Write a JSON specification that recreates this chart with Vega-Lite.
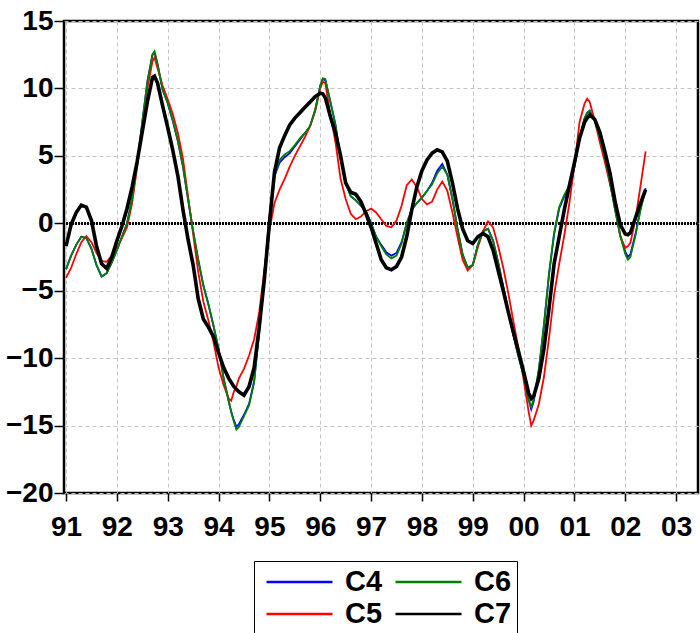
{
  "$schema": "https://vega.github.io/schema/vega-lite/v6.json",
  "width": 634,
  "height": 472,
  "autosize": "none",
  "padding": {"left": 64, "top": 21, "right": 2, "bottom": 140},
  "background": "white",
  "config": {
    "view": {"stroke": "black", "strokeWidth": 2.5},
    "font": "Liberation Sans",
    "axis": {
      "labelFont": "Liberation Sans",
      "labelFontWeight": "bold",
      "labelFontSize": 28,
      "labelColor": "black",
      "tickColor": "black",
      "tickWidth": 1.5,
      "domain": false,
      "gridColor": "#c4c4c4",
      "gridDash": [4, 3],
      "gridWidth": 1,
      "title": null
    }
  },
  "data": {
    "values": [
      {"t": 1991.0, "C4": -3.4, "C5": -4.05, "C6": -3.4, "C7": -1.7},
      {"t": 1991.1, "C4": -2.4, "C5": -3.3, "C6": -2.4, "C7": -0.1},
      {"t": 1991.2, "C4": -1.6, "C5": -2.3, "C6": -1.6, "C7": 0.8},
      {"t": 1991.3, "C4": -1.0, "C5": -1.4, "C6": -1.0, "C7": 1.35},
      {"t": 1991.4, "C4": -1.1, "C5": -0.96, "C6": -1.1, "C7": 1.2},
      {"t": 1991.5, "C4": -1.9, "C5": -1.4, "C6": -1.9, "C7": 0.2},
      {"t": 1991.6, "C4": -3.1, "C5": -2.2, "C6": -3.1, "C7": -1.7},
      {"t": 1991.7, "C4": -3.95, "C5": -2.8, "C6": -3.95, "C7": -3.0},
      {"t": 1991.8, "C4": -3.7, "C5": -2.85, "C6": -3.7, "C7": -3.35},
      {"t": 1991.9, "C4": -2.9, "C5": -2.4, "C6": -2.9, "C7": -2.5},
      {"t": 1992.0, "C4": -2.0, "C5": -1.8, "C6": -2.0, "C7": -1.3},
      {"t": 1992.1, "C4": -1.0, "C5": -1.1, "C6": -1.0, "C7": -0.2},
      {"t": 1992.2, "C4": 0.0, "C5": -0.3, "C6": 0.0, "C7": 1.1},
      {"t": 1992.3, "C4": 1.8, "C5": 1.5, "C6": 1.8, "C7": 2.7},
      {"t": 1992.4, "C4": 4.5, "C5": 4.2, "C6": 4.5, "C7": 4.6},
      {"t": 1992.5, "C4": 7.5, "C5": 7.2, "C6": 7.5, "C7": 6.8},
      {"t": 1992.6, "C4": 10.5, "C5": 10.0, "C6": 10.5, "C7": 9.0},
      {"t": 1992.7, "C4": 12.5, "C5": 12.0, "C6": 12.5, "C7": 10.8},
      {"t": 1992.74, "C4": 12.7, "C5": 12.3, "C6": 12.75, "C7": 10.9},
      {"t": 1992.8, "C4": 11.8, "C5": 11.5, "C6": 11.8, "C7": 10.4},
      {"t": 1992.9, "C4": 9.9, "C5": 10.2, "C6": 9.9, "C7": 8.7},
      {"t": 1993.0, "C4": 8.9, "C5": 9.2, "C6": 8.9, "C7": 7.1},
      {"t": 1993.1, "C4": 7.6, "C5": 8.1, "C6": 7.6, "C7": 5.4},
      {"t": 1993.2, "C4": 6.1, "C5": 6.7, "C6": 6.1, "C7": 3.5},
      {"t": 1993.3, "C4": 4.2, "C5": 4.8, "C6": 4.2, "C7": 1.0},
      {"t": 1993.4, "C4": 1.8, "C5": 2.0, "C6": 1.8, "C7": -1.2},
      {"t": 1993.5, "C4": -0.6, "C5": -0.8, "C6": -0.6, "C7": -3.1},
      {"t": 1993.6, "C4": -2.7, "C5": -3.6, "C6": -2.7, "C7": -5.6},
      {"t": 1993.7, "C4": -4.6, "C5": -5.8, "C6": -4.6, "C7": -7.1},
      {"t": 1993.8, "C4": -6.0, "C5": -7.2, "C6": -6.0, "C7": -7.7},
      {"t": 1993.9, "C4": -7.6, "C5": -8.8, "C6": -7.6, "C7": -8.4},
      {"t": 1994.0, "C4": -9.3, "C5": -10.7, "C6": -9.3, "C7": -9.6},
      {"t": 1994.1, "C4": -11.5, "C5": -12.0, "C6": -11.5, "C7": -10.7},
      {"t": 1994.2, "C4": -13.2, "C5": -13.0, "C6": -13.2, "C7": -11.5},
      {"t": 1994.25, "C4": -14.0, "C5": -13.15, "C6": -14.0, "C7": -11.8},
      {"t": 1994.3, "C4": -14.6, "C5": -12.5, "C6": -14.7, "C7": -12.1},
      {"t": 1994.35, "C4": -15.1, "C5": -12.1, "C6": -15.3, "C7": -12.3},
      {"t": 1994.4, "C4": -14.9, "C5": -11.5, "C6": -15.1, "C7": -12.5},
      {"t": 1994.5, "C4": -14.2, "C5": -10.8, "C6": -14.3, "C7": -12.75},
      {"t": 1994.6, "C4": -13.4, "C5": -9.8, "C6": -13.5, "C7": -12.1},
      {"t": 1994.7, "C4": -11.7, "C5": -8.6, "C6": -11.8, "C7": -10.7},
      {"t": 1994.8, "C4": -8.0, "C5": -6.6, "C6": -8.0, "C7": -7.7},
      {"t": 1994.9, "C4": -3.8, "C5": -3.5, "C6": -3.8, "C7": -4.2},
      {"t": 1995.0, "C4": 0.4, "C5": -0.5, "C6": 0.4, "C7": 0.0},
      {"t": 1995.1, "C4": 3.5, "C5": 1.5, "C6": 3.6, "C7": 3.8},
      {"t": 1995.2, "C4": 4.5, "C5": 2.5, "C6": 4.7, "C7": 5.6},
      {"t": 1995.3, "C4": 4.9, "C5": 3.3, "C6": 5.1, "C7": 6.5},
      {"t": 1995.4, "C4": 5.2, "C5": 4.2, "C6": 5.35, "C7": 7.3},
      {"t": 1995.5, "C4": 5.7, "C5": 5.0, "C6": 5.8, "C7": 7.8},
      {"t": 1995.6, "C4": 6.2, "C5": 5.7, "C6": 6.3, "C7": 8.2},
      {"t": 1995.7, "C4": 6.7, "C5": 6.4, "C6": 6.7, "C7": 8.6},
      {"t": 1995.8, "C4": 7.2, "C5": 7.2, "C6": 7.2, "C7": 9.0},
      {"t": 1995.9, "C4": 8.4, "C5": 8.3, "C6": 8.4, "C7": 9.4},
      {"t": 1996.0, "C4": 10.2, "C5": 10.0, "C6": 10.2, "C7": 9.65},
      {"t": 1996.05, "C4": 10.7, "C5": 10.5, "C6": 10.75, "C7": 9.6},
      {"t": 1996.1, "C4": 10.6, "C5": 10.4, "C6": 10.7, "C7": 9.3},
      {"t": 1996.2, "C4": 9.0, "C5": 8.0, "C6": 9.0, "C7": 7.9},
      {"t": 1996.3, "C4": 7.3, "C5": 6.0, "C6": 7.3, "C7": 6.7},
      {"t": 1996.4, "C4": 4.8, "C5": 3.3, "C6": 4.8, "C7": 5.0},
      {"t": 1996.5, "C4": 3.0, "C5": 1.8, "C6": 3.0, "C7": 3.0},
      {"t": 1996.6, "C4": 2.0, "C5": 0.7, "C6": 2.0, "C7": 2.3},
      {"t": 1996.7, "C4": 1.7, "C5": 0.3, "C6": 1.7, "C7": 2.15},
      {"t": 1996.8, "C4": 1.3, "C5": 0.5, "C6": 1.3, "C7": 1.6},
      {"t": 1996.9, "C4": 0.9, "C5": 0.9, "C6": 0.9, "C7": 0.7},
      {"t": 1997.0, "C4": 0.0, "C5": 1.1, "C6": 0.0, "C7": -0.3},
      {"t": 1997.1, "C4": -1.0, "C5": 0.8, "C6": -1.0, "C7": -1.5},
      {"t": 1997.2, "C4": -1.6, "C5": 0.3, "C6": -1.7, "C7": -2.7},
      {"t": 1997.3, "C4": -2.15, "C5": -0.2, "C6": -2.3, "C7": -3.3},
      {"t": 1997.4, "C4": -2.4, "C5": -0.3, "C6": -2.6, "C7": -3.45},
      {"t": 1997.5, "C4": -2.2, "C5": 0.2, "C6": -2.4, "C7": -3.2},
      {"t": 1997.6, "C4": -1.4, "C5": 1.3, "C6": -1.5, "C7": -2.5},
      {"t": 1997.7, "C4": 0.0, "C5": 2.8, "C6": 0.0, "C7": -1.0},
      {"t": 1997.8, "C4": 1.0, "C5": 3.25, "C6": 1.0, "C7": 1.0},
      {"t": 1997.9, "C4": 1.5, "C5": 2.7, "C6": 1.5, "C7": 2.7},
      {"t": 1998.0, "C4": 1.9, "C5": 1.8, "C6": 1.9, "C7": 3.9},
      {"t": 1998.1, "C4": 2.4, "C5": 1.4, "C6": 2.4, "C7": 4.7},
      {"t": 1998.2, "C4": 3.0, "C5": 1.6, "C6": 2.9, "C7": 5.2},
      {"t": 1998.3, "C4": 3.9, "C5": 2.5, "C6": 3.7, "C7": 5.45},
      {"t": 1998.4, "C4": 4.4, "C5": 3.1, "C6": 4.2, "C7": 5.3},
      {"t": 1998.5, "C4": 3.6, "C5": 2.4, "C6": 3.6, "C7": 4.6},
      {"t": 1998.6, "C4": 1.8, "C5": 0.8, "C6": 1.8, "C7": 3.0},
      {"t": 1998.7, "C4": -0.4, "C5": -1.0, "C6": -0.4, "C7": 1.1},
      {"t": 1998.8, "C4": -2.3, "C5": -2.7, "C6": -2.3, "C7": -0.4},
      {"t": 1998.9, "C4": -3.3, "C5": -3.5, "C6": -3.3, "C7": -1.3},
      {"t": 1999.0, "C4": -3.1, "C5": -3.1, "C6": -3.1, "C7": -1.5},
      {"t": 1999.1, "C4": -1.6, "C5": -1.8, "C6": -1.6, "C7": -1.0},
      {"t": 1999.2, "C4": -0.6, "C5": -0.6, "C6": -0.6, "C7": -0.75},
      {"t": 1999.3, "C4": -0.4, "C5": 0.15, "C6": -0.4, "C7": -1.0},
      {"t": 1999.4, "C4": -1.3, "C5": -0.3, "C6": -1.3, "C7": -2.0},
      {"t": 1999.5, "C4": -2.9, "C5": -1.7, "C6": -2.9, "C7": -3.5},
      {"t": 1999.6, "C4": -4.7, "C5": -3.3, "C6": -4.7, "C7": -5.0},
      {"t": 1999.7, "C4": -6.5, "C5": -5.2, "C6": -6.5, "C7": -6.6},
      {"t": 1999.8, "C4": -8.3, "C5": -7.3, "C6": -8.3, "C7": -8.1},
      {"t": 1999.9, "C4": -9.9, "C5": -9.3, "C6": -9.9, "C7": -9.5},
      {"t": 2000.0, "C4": -11.3, "C5": -11.6, "C6": -11.3, "C7": -11.0},
      {"t": 2000.1, "C4": -13.1, "C5": -14.0, "C6": -13.1, "C7": -12.6},
      {"t": 2000.15, "C4": -13.8, "C5": -15.0, "C6": -13.6, "C7": -13.0},
      {"t": 2000.2, "C4": -13.2, "C5": -14.6, "C6": -13.0, "C7": -12.8},
      {"t": 2000.3, "C4": -10.9, "C5": -13.4, "C6": -10.8, "C7": -11.5},
      {"t": 2000.4, "C4": -7.6, "C5": -11.4, "C6": -7.5, "C7": -9.3},
      {"t": 2000.5, "C4": -3.8, "C5": -8.5, "C6": -3.7, "C7": -6.3},
      {"t": 2000.6, "C4": -0.8, "C5": -5.3, "C6": -0.7, "C7": -3.0},
      {"t": 2000.7, "C4": 1.1, "C5": -3.0, "C6": 1.2, "C7": -1.0},
      {"t": 2000.8, "C4": 2.0, "C5": -0.9, "C6": 2.1, "C7": 1.0},
      {"t": 2000.9, "C4": 2.7, "C5": 1.5, "C6": 2.8, "C7": 2.8},
      {"t": 2001.0, "C4": 4.2, "C5": 4.3, "C6": 4.2, "C7": 4.5},
      {"t": 2001.1, "C4": 6.3, "C5": 7.5, "C6": 6.3, "C7": 6.3},
      {"t": 2001.2, "C4": 7.8, "C5": 8.9, "C6": 7.8, "C7": 7.5},
      {"t": 2001.25, "C4": 8.2, "C5": 9.25, "C6": 8.2, "C7": 7.8},
      {"t": 2001.3, "C4": 8.35, "C5": 9.0, "C6": 8.35, "C7": 8.05},
      {"t": 2001.4, "C4": 7.6, "C5": 7.6, "C6": 7.6, "C7": 7.7},
      {"t": 2001.5, "C4": 6.3, "C5": 6.0, "C6": 6.3, "C7": 6.75},
      {"t": 2001.6, "C4": 4.9, "C5": 4.5, "C6": 4.9, "C7": 5.3},
      {"t": 2001.7, "C4": 3.0, "C5": 2.9, "C6": 3.0, "C7": 3.7},
      {"t": 2001.8, "C4": 1.0, "C5": 1.26, "C6": 1.0, "C7": 1.6},
      {"t": 2001.9, "C4": -0.9, "C5": -0.96, "C6": -0.9, "C7": -0.1},
      {"t": 2002.0, "C4": -2.1, "C5": -1.82, "C6": -2.3, "C7": -0.8},
      {"t": 2002.05, "C4": -2.5, "C5": -1.7, "C6": -2.7, "C7": -0.85},
      {"t": 2002.1, "C4": -2.3, "C5": -1.45, "C6": -2.5, "C7": -0.7},
      {"t": 2002.2, "C4": -0.8, "C5": 0.3, "C6": -0.9, "C7": 0.4},
      {"t": 2002.3, "C4": 1.1, "C5": 2.8, "C6": 1.0, "C7": 1.5},
      {"t": 2002.4, "C4": 2.6, "C5": 5.34, "C6": 2.5, "C7": 2.5}
    ]
  },
  "layer": [
    {
      "mark": {"type": "rule", "color": "black", "strokeWidth": 2, "strokeDash": [2, 1]},
      "encoding": {"y": {"datum": 0, "type": "quantitative"}}
    },
    {
      "transform": [{"fold": ["C4", "C5", "C6", "C7"], "as": ["series", "value"]}],
      "mark": {"type": "line", "interpolate": "linear", "clip": true},
      "encoding": {
        "x": {
          "field": "t",
          "type": "quantitative",
          "scale": {"domain": [1990.96, 2003.43], "nice": false, "zero": false},
          "axis": {
            "values": [1991, 1992, 1993, 1994, 1995, 1996, 1997, 1998, 1999, 2000, 2001, 2002, 2003],
            "labelExpr": "substring(toString(datum.value), 2, 4)",
            "tickSize": 8,
            "labelPadding": 12,
            "labelFlush": false,
            "labelOverlap": false,
            "grid": true
          }
        },
        "y": {
          "field": "value",
          "type": "quantitative",
          "scale": {"domain": [-20, 15], "nice": false, "zero": false},
          "axis": {
            "values": [-20, -15, -10, -5, 0, 5, 10, 15],
            "tickSize": 10,
            "labelPadding": 1,
            "labelFlush": false,
            "labelOverlap": false,
            "grid": true
          }
        },
        "color": {
          "field": "series",
          "type": "nominal",
          "scale": {"domain": ["C4", "C5", "C6", "C7"], "range": ["#0000ff", "#ff0000", "#008000", "#000000"]},
          "legend": {
            "title": null,
            "orient": "none",
            "legendX": 190,
            "legendY": 540,
            "columns": 2,
            "symbolType": "stroke",
            "symbolSize": 4356,
            "symbolStrokeWidth": 2.5,
            "clipHeight": 32,
            "rowPadding": 0,
            "columnPadding": 5,
            "padding": 5,
            "strokeColor": "black",
            "labelFont": "Liberation Sans",
            "labelFontSize": 29,
            "labelFontWeight": "bold",
            "labelColor": "black",
            "labelOffset": 11,
            "symbolOffset": 6,
            "labelLimit": 200
          }
        },
        "strokeWidth": {
          "condition": {"test": "datum.series === 'C7'", "value": 3.6},
          "value": 1.8
        },
        "order": {"field": "t", "type": "quantitative"}
      }
    }
  ]
}
